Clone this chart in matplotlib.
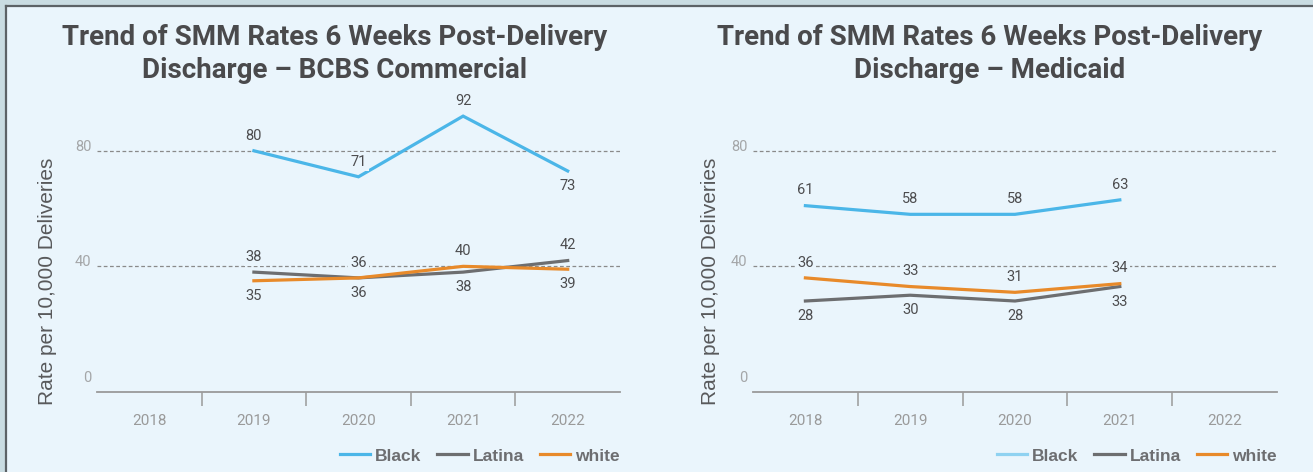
import matplotlib
matplotlib.use("Agg")
import numpy as np
import matplotlib.pyplot as plt
import matplotlib.transforms as mtransforms
from matplotlib import font_manager as fm
from matplotlib.patches import Rectangle
from matplotlib.lines import Line2D

years = ["2018", "2019", "2020", "2021", "2022"]

# BCBS Commercial (no 2018 data)
bcbs_black = [np.nan, 80, 71, 92, 73]
bcbs_latina = [np.nan, 38, 36, 38, 42]
bcbs_white = [np.nan, 35, 36, 40, 39]
# label side: 1 = above line, -1 = below line
bcbs_black_side = [0, 1, 1, 1, -1]
bcbs_latina_side = [0, 1, 1, -1, 1]
bcbs_white_side = [0, -1, -1, 1, -1]

# Medicaid (no 2022 data)
mcd_black = [61, 58, 58, 63, np.nan]
mcd_latina = [28, 30, 28, 33, np.nan]
mcd_white = [36, 33, 31, 34, np.nan]
mcd_black_side = [1, 1, 1, 1, 0]
mcd_latina_side = [-1, -1, -1, -1, 0]
mcd_white_side = [1, 1, 1, 1, 0]

series_names = ["Black", "Latina", "white"]
colors = {"Black": "#4bb6e8", "Latina": "#6d6e70", "white": "#e88a2a"}

BG = "#eaf5fc"
names = {f.name for f in fm.fontManager.ttflist}
COND = "Liberation Sans Narrow" if "Liberation Sans Narrow" in names else "Roboto"
REG = "Liberation Sans"

fig = plt.figure(figsize=(13.13, 4.72), dpi=100, facecolor=BG)

# outer frame bands + dark border (top and left)
fig.patches.append(Rectangle((0, 1 - 5 / 472), 1, 5 / 472, transform=fig.transFigure,
                             facecolor="#c9dce2", edgecolor="none"))
fig.patches.append(Rectangle((0, 0), 5 / 1313, 1, transform=fig.transFigure,
                             facecolor="#c9dce2", edgecolor="none"))
fig.add_artist(Line2D([5.5 / 1313, 1], [1 - 6 / 472, 1 - 6 / 472], transform=fig.transFigure,
                      color="#5c6266", lw=1.6))
fig.add_artist(Line2D([5.5 / 1313, 5.5 / 1313], [0, 1 - 6 / 472], transform=fig.transFigure,
                      color="#5c6266", lw=1.6))


def draw_panel(ax, data, sides, title, title_x, ylab_x, light_black_legend=False):
    x = np.arange(len(years))
    ax.set_facecolor("none")
    for name in series_names:
        ax.plot(x, data[name], color=colors[name], lw=2.3, solid_joinstyle="miter",
                zorder=3, label=name)
        for xi, v, s in zip(x, data[name], sides[name]):
            if np.isnan(v):
                continue
            ax.annotate(f"{v:.0f}", (xi, v), xytext=(0, 11 * s), textcoords="offset points",
                        ha="center", va="center", fontsize=10.5, family=COND,
                        color="#4d4d4f", zorder=4,
                        bbox=dict(boxstyle="square,pad=0.15", fc=BG, ec="none"),
                        annotation_clip=False)

    ax.set_xlim(-0.5, len(years) - 0.5)
    ax.set_ylim(-3.5, 100)
    for gy in [40, 80]:
        ax.axhline(gy, color="#8a8a8a", lw=0.9, ls=(0, (3, 2)), zorder=1)

    for sp in ["top", "right", "left"]:
        ax.spines[sp].set_visible(False)
    ax.spines["bottom"].set_color("#9a9a9a")
    ax.spines["bottom"].set_linewidth(1.3)

    ax.set_xticks(x)
    ax.set_xticklabels(years, family=COND, fontsize=11, color="#9a9a9a")
    ax.set_xticks(x[:-1] + 0.5, minor=True)
    ax.tick_params(axis="x", which="major", length=0, pad=16)
    ax.tick_params(axis="x", which="minor", length=10, width=1.1, color="#9a9a9a")

    ax.set_yticks([0, 40, 80])
    ax.set_yticklabels(["0", "40", "80"], family=COND, fontsize=10.5, color="#a4a6a8")
    ax.tick_params(axis="y", length=0, pad=4)
    off = mtransforms.ScaledTranslation(0, 4 / 72, fig.dpi_scale_trans)
    for lab in ax.get_yticklabels():
        lab.set_transform(lab.get_transform() + off)

    ax.set_ylabel("Rate per 10,000 Deliveries", family=REG, fontsize=15,
                  color="#58595b")
    ax.yaxis.set_label_coords(ylab_x, 0.371)

    fig.text(title_x, 1 - 54 / 472, title, ha="center", va="center", family=COND,
             fontweight="bold", fontsize=20, color="#4a4a4c", linespacing=1.3)

    leg = ax.legend(loc="center right", bbox_to_anchor=(1.0, -0.214), ncol=3,
                    frameon=False, borderaxespad=0, borderpad=0, handlelength=1.75,
                    handletextpad=0.3, columnspacing=0.9,
                    prop={"family": REG, "weight": "bold", "size": 12.5})
    for t in leg.get_texts():
        t.set_color("#6d6e71")
    for ln in leg.get_lines():
        ln.set_linewidth(2.3)
    if light_black_legend:
        leg.get_lines()[0].set_color("#8fd2f1")


ax1 = fig.add_axes([97 / 1313, 80 / 472, 523 / 1313, 299 / 472])
draw_panel(ax1,
           {"Black": bcbs_black, "Latina": bcbs_latina, "white": bcbs_white},
           {"Black": bcbs_black_side, "Latina": bcbs_latina_side, "white": bcbs_white_side},
           "Trend of SMM Rates 6 Weeks Post-Delivery\nDischarge \u2013 BCBS Commercial",
           335 / 1313, -0.0765)

ax2 = fig.add_axes([753 / 1313, 80 / 472, 524 / 1313, 299 / 472])
draw_panel(ax2,
           {"Black": mcd_black, "Latina": mcd_latina, "white": mcd_white},
           {"Black": mcd_black_side, "Latina": mcd_latina_side, "white": mcd_white_side},
           "Trend of SMM Rates 6 Weeks Post-Delivery\nDischarge \u2013 Medicaid",
           990 / 1313, -0.063, light_black_legend=True)

fig.savefig("out.png", dpi=100, facecolor=BG)
